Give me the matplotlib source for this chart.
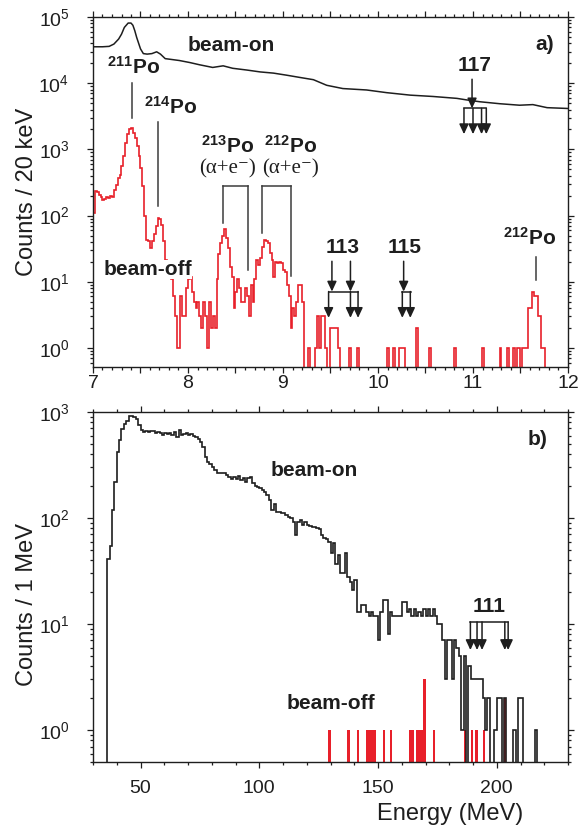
import numpy as np
import matplotlib
matplotlib.use("Agg")
import matplotlib.pyplot as plt
from matplotlib.ticker import MultipleLocator, FuncFormatter, LogLocator, NullFormatter

plt.rcParams['font.family'] = ['Liberation Sans', 'DejaVu Sans']
plt.rcParams['mathtext.fontset'] = 'custom'
plt.rcParams['mathtext.rm'] = 'Liberation Sans'
plt.rcParams['mathtext.bf'] = 'Liberation Sans:bold'
plt.rcParams['mathtext.it'] = 'Liberation Sans:italic'

# ---------------- data: panel a) (20 keV bins, 7.00 - 11.80 MeV) ----------------
beam_off_a_start = 7.0
beam_off_a_binw = 0.02
beam_off_a = [
    110, 234, 230, 208, 190, 175, 180, 192, 185, 195, 192, 247, 294, 372, 417, 560, 790, 1260, 1700, 2050,
    2140, 1780, 1500, 1120, 790, 530, 278, 97, 43, 41, 32, 41, 52, 70, 92, 88, 72, 41, 21, 18,
    14, 11, 6, 3, 1, 1, 6, 3, 3, 8, 11, 12, 7, 5, 4, 5, 3, 2, 5, 3,
    1, 5, 2, 3, 2, 11, 26, 39, 49, 62, 46, 32, 17, 12, 4, 7, 11, 8, 5, 5,
    8, 6, 3, 9, 5, 11, 21, 18, 23, 34, 43, 41, 39, 27, 21, 12, 20, 19, 20, 19,
    15, 14, 9, 6, 2, 4, 3, 5, 9, 9, 5, 0, 0, 1, 0, 0, 0, 1, 3, 1,
    3, 3, 1, 0, 0, 2, 2, 2, 2, 1, 0, 0, 0, 0, 0, 1, 0, 0, 0, 1,
    0, 0, 0, 0, 0, 0, 0, 0, 0, 0, 0, 0, 0, 0, 0, 1, 0, 0, 1, 0,
    0, 1, 1, 1, 0, 0, 0, 0, 0, 0, 2, 0, 0, 0, 0, 0, 0, 1, 0, 0,
    0, 0, 0, 0, 0, 0, 0, 0, 0, 0, 1, 0, 0, 0, 0, 0, 0, 0, 0, 0,
    0, 0, 0, 0, 0, 1, 0, 0, 0, 0, 0, 0, 0, 0, 1, 0, 0, 0, 1, 0,
    0, 1, 0, 1, 1, 0, 1, 1, 1, 4, 4, 7, 6, 6, 3, 3, 1, 1, 0, 0,
]

beam_on_a_E = [7.00, 7.10, 7.17, 7.22, 7.27, 7.30, 7.33, 7.37, 7.40, 7.42, 7.44, 7.46, 7.50, 7.53,
               7.57, 7.62, 7.67, 7.71, 7.76, 7.81, 7.91, 8.02, 8.12, 8.26, 8.37, 8.47, 8.62, 8.76,
               8.90, 9.04, 9.18, 9.32, 9.46, 9.63, 9.88, 10.09, 10.34, 10.58, 10.83, 10.93, 11.07,
               11.28, 11.49, 11.63, 11.78, 12.00]
beam_on_a = [35500, 35500, 36000, 39000, 46500, 55000, 69600, 81000, 81000, 75000, 62000, 49000,
             33000, 28000, 27500, 28000, 29800, 27500, 23500, 23000, 22000, 20500, 19000, 17300,
             18300, 16800, 15800, 14800, 14200, 13200, 12200, 11300, 9300, 8300, 7900, 7200, 6600,
             6300, 5900, 5600, 5250, 4900, 4650, 4750, 4270, 4150]

# ---------------- data: panel b) (1 MeV bins) ----------------
beam_on_b_start = 35
beam_on_b = [
    0, 41, 54, 119, 220, 415, 550, 690, 770, 830, 910,
    910, 900, 850, 750, 680, 650, 665, 645, 665, 655,
    640, 650, 640, 610, 630, 620, 640, 610, 650, 585,
    680, 610, 620, 630, 610, 615, 600, 580, 560, 525,
    470, 380, 340, 320, 305, 284, 268, 264, 268, 264,
    255, 245, 232, 242, 232, 249, 228, 237, 220, 237,
    245, 215, 200, 195, 190, 184, 175, 165, 148, 119,
    137, 115, 115, 112, 111, 107, 103, 99, 92, 69,
    92, 96, 86, 92, 86, 84, 83, 83, 80, 78,
    69, 65, 63, 60, 47, 58, 37, 45, 30, 30,
    47, 28, 25, 21, 26, 13, 13, 15, 15, 13,
    12, 13, 12, 12, 7, 13, 17, 17, 8, 13,
    12, 12, 12, 12, 16, 16, 13, 14, 12, 14,
    12, 13, 12, 14, 12, 14, 12, 14, 12, 10,
    10, 7, 3, 7, 7, 3, 7, 6, 5, 1,
    5, 0, 4, 3, 3, 3, 3, 3, 2, 1,
    2, 0, 0, 1, 2, 2, 0, 2, 0, 0,
    0, 1, 0, 2, 2, 0, 0, 0, 0, 0,
    1, 0,
]
beam_off_b_E = [129, 137, 141, 145, 146, 147, 148, 152, 155, 163, 164, 166, 167, 168, 169,
                173, 186, 189, 191, 194, 203]
beam_off_b = [1, 1, 1, 1, 1, 1, 1, 1, 1, 1, 1, 1, 1, 1, 3,
              1, 1, 1, 1, 1, 2]

RED = '#e8202a'
DARK = '#1e1e1e'
GREY = '#3c3c3c'

fig = plt.figure(figsize=(5.82, 8.26), dpi=100)
W, H = 582.0, 826.0
ax1 = fig.add_axes([93 / W, 1 - 367 / H, 475 / W, 350 / H])
ax2 = fig.add_axes([93 / W, 1 - 762 / H, 475 / W, 350 / H])

# ---------- panel a ----------
ya = np.array(beam_off_a, dtype=float)
edges_a = beam_off_a_start + beam_off_a_binw * np.arange(len(ya) + 1)
ax1.stairs(np.where(ya > 0, ya, 1e-3), edges_a, baseline=None, color=RED, lw=1.2)
ax1.plot(beam_on_a_E, beam_on_a, color=DARK, lw=1.1)

ax1.set_yscale('log')
ax1.set_xlim(7, 12)
ax1.set_ylim(10 ** -0.287, 1e5)

# ---------- panel b ----------
yb = np.array(beam_on_b, dtype=float)
edges_b = beam_on_b_start + np.arange(len(yb) + 1)
ax2.bar(beam_off_b_E, beam_off_b, width=1.0, align='edge', bottom=1e-3, color=RED, lw=0, zorder=2)
ax2.stairs(np.where(yb > 0, yb, 1e-3), edges_b, baseline=None, color=DARK, lw=1.2, zorder=3)
ax2.set_yscale('log')
ax2.set_xlim(30, 230)
ax2.set_ylim(0.5, 1000)

# ---------- ticks ----------
for ax in (ax1, ax2):
    ax.tick_params(which='both', direction='out', top=True, right=True,
                   labeltop=False, labelright=False, width=0.9, colors=DARK, labelsize=14)
    ax.tick_params(which='major', length=4)
    ax.tick_params(which='minor', length=2.3)
    ax.tick_params(axis='y', which='major', pad=13)
    ax.yaxis.set_major_locator(LogLocator(base=10, numticks=10))
    ax.yaxis.set_minor_locator(LogLocator(base=10, subs=np.arange(2, 10), numticks=20))
    ax.yaxis.set_minor_formatter(NullFormatter())
    for s in ax.spines.values():
        s.set_linewidth(1.0)
        s.set_color(DARK)

ax1.xaxis.set_major_locator(MultipleLocator(0.5))
ax1.xaxis.set_minor_locator(MultipleLocator(0.1))
ax1.xaxis.set_major_formatter(FuncFormatter(lambda v, p: f'{v:.0f}' if abs(v - round(v)) < 1e-6 else ''))
ax1.tick_params(axis='x', which='major', pad=1.5)

ax2.xaxis.set_major_locator(MultipleLocator(50))
ax2.xaxis.set_minor_locator(MultipleLocator(10))
ax2.tick_params(axis='x', which='major', pad=9)

# ---------- axis labels ----------
fig.text(27 / W, 1 - 192 / H, 'Counts / 20 keV', rotation=90, ha='center', va='center',
         fontsize=17, color=DARK)
fig.text(27 / W, 1 - 605 / H, 'Counts / 1 MeV', rotation=90, ha='center', va='center',
         fontsize=17, color=DARK)
fig.text(450 / W, 1 - 814 / H, 'Energy (MeV)', ha='center', va='center', fontsize=17, color=DARK)

L = lambda v: 10 ** v
bold = dict(fontsize=15, fontweight='bold', color=DARK, ha='center', va='center')
serif = dict(fontsize=15, family=['Liberation Serif', 'DejaVu Serif'], color=DARK, ha='center', va='center')


def arrow(ax, x, y0, y1):
    ax.annotate('', xy=(x, L(y1)), xytext=(x, L(y0)),
                arrowprops=dict(arrowstyle='-|>,head_length=0.6,head_width=0.28', color=DARK,
                                lw=1.1, shrinkA=0, shrinkB=0))


def hline(ax, x0, x1, y, color=GREY):
    ax.plot([x0, x1], [L(y), L(y)], color=color, lw=1.1)


def vline(ax, x, y0, y1, color=GREY):
    ax.plot([x, x], [L(y0), L(y1)], color=color, lw=1.1)


# panel a annotations
ax1.text(8.46, L(4.576), 'beam-on', **bold)
ax1.text(11.75, L(4.58), 'a)', **bold)
ax1.text(7.58, L(1.18), 'beam-off', bbox=dict(facecolor='white', edgecolor='none', pad=0), **bold)

ax1.text(7.43, L(4.24), r'$^{\mathbf{211}}\mathbf{Po}$', fontsize=15, color=DARK, ha='center', va='center')
vline(ax1, 7.41, 4.0, 3.48)
ax1.text(7.82, L(3.65), r'$^{\mathbf{214}}\mathbf{Po}$', fontsize=15, color=DARK, ha='center', va='center')
vline(ax1, 7.68, 3.42, 2.15)

ax1.text(8.42, L(3.06), r'$^{\mathbf{213}}\mathbf{Po}$', fontsize=15, color=DARK, ha='center', va='center')
ax1.text(8.42, L(2.70), '(α+e⁻)', **serif)
hline(ax1, 8.37, 8.63, 2.44)
vline(ax1, 8.37, 2.44, 1.89)
vline(ax1, 8.63, 2.44, 1.18)

ax1.text(9.08, L(3.06), r'$^{\mathbf{212}}\mathbf{Po}$', fontsize=15, color=DARK, ha='center', va='center')
ax1.text(9.08, L(2.70), '(α+e⁻)', **serif)
hline(ax1, 8.78, 9.08, 2.44)
vline(ax1, 8.78, 2.44, 1.74)
vline(ax1, 9.08, 2.44, 1.09)

ax1.text(11.6, L(1.67), r'$^{\mathbf{212}}\mathbf{Po}$', fontsize=15, color=DARK, ha='center', va='center')
vline(ax1, 11.66, 1.38, 1.03)

# 117
ax1.text(11.02, L(4.27), '117', **bold)
arrow(ax1, 10.99, 4.06, 3.62)
hline(ax1, 10.905, 11.14, 3.62, color=DARK)
for x in (10.905, 11.0, 11.09, 11.14):
    arrow(ax1, x, 3.62, 3.23)

# 113
ax1.text(9.63, L(1.52), '113', **bold)
for x in (9.515, 9.71):
    arrow(ax1, x, 1.31, 0.853)
hline(ax1, 9.48, 9.79, 0.853, color=DARK)
for x in (9.48, 9.71, 9.79):
    arrow(ax1, x, 0.853, 0.455)

# 115
ax1.text(10.28, L(1.52), '115', **bold)
arrow(ax1, 10.27, 1.31, 0.853)
hline(ax1, 10.256, 10.35, 0.853, color=DARK)
for x in (10.256, 10.34):
    arrow(ax1, x, 0.853, 0.455)

# panel b annotations
ax2.text(217.2, L(2.745), 'b)', **bold)
ax2.text(123.1, L(2.45), 'beam-on', **bold)
ax2.text(130.3, L(0.255), 'beam-off', **bold)
ax2.text(196.6, L(1.17), '111', **bold)
hline(ax2, 188.9, 204.8, 1.02, color=DARK)
for x in (188.9, 191.7, 193.8, 203.4, 204.8):
    arrow(ax2, x, 1.02, 0.755)

fig.savefig('out.png', dpi=100)
